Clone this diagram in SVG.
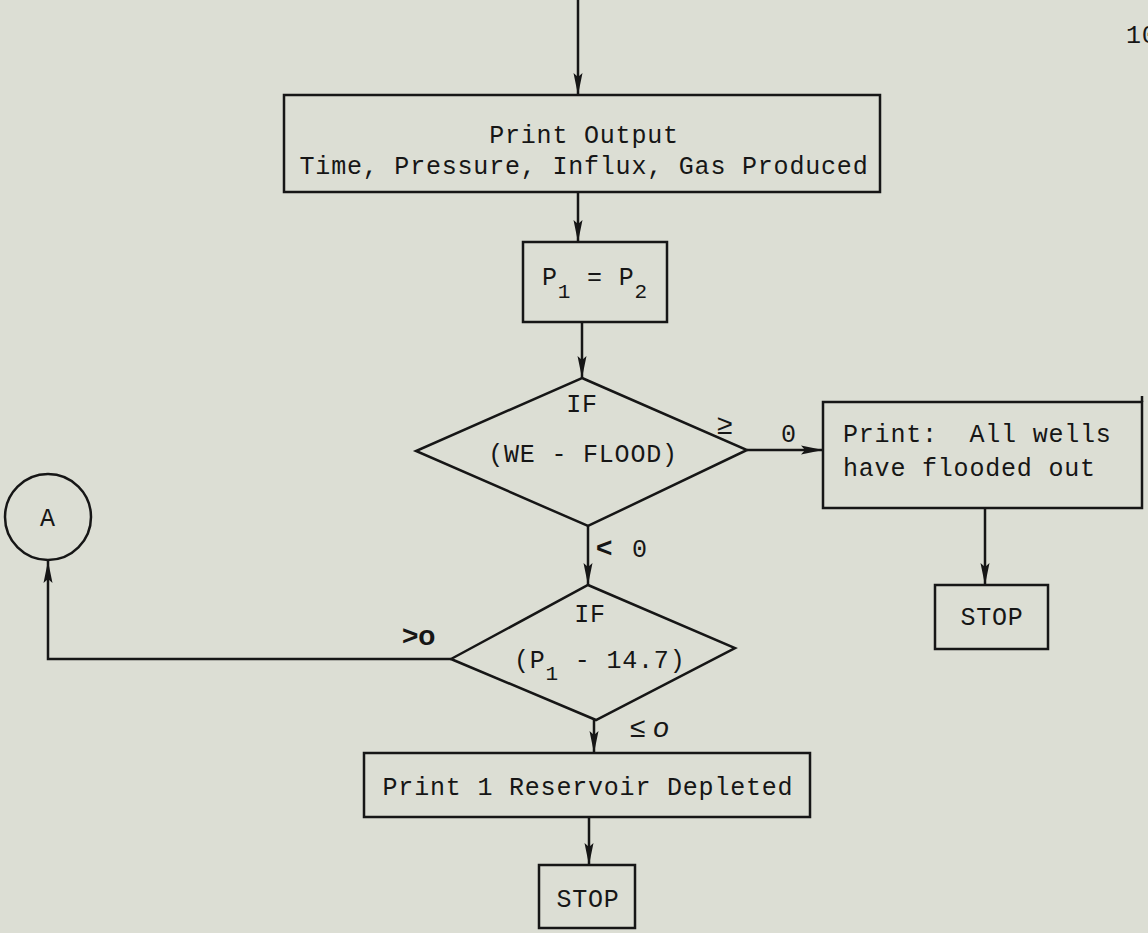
<svg xmlns="http://www.w3.org/2000/svg" width="1148" height="933" viewBox="0 0 1148 933">
<defs>
<marker id="ah" viewBox="0 0 22 10" refX="22" refY="5" markerWidth="22" markerHeight="10" orient="auto" markerUnits="userSpaceOnUse">
<path d="M0,0.5 L22,5 L0,9.5 L4,5 z" fill="#161616"/>
</marker>
<style>
.s{fill:none;stroke:#161616;stroke-width:2.5}
.t{font-family:"Liberation Mono","DejaVu Sans Mono",monospace;font-size:25px;fill:#161616;letter-spacing:0.8px;white-space:pre}
.m{text-anchor:middle}
.sub{font-size:21px}
.h{font-family:"Liberation Sans","DejaVu Sans",sans-serif;font-size:28px;fill:#161616}
</style>
</defs>
<rect width="1148" height="933" fill="#dcded4"/>
<text class="t" x="1126" y="43">10</text>
<g id="connectors">
<path class="s" d="M578,0 V95" marker-end="url(#ah)"/>
<path class="s" d="M578,192 V242" marker-end="url(#ah)"/>
<path class="s" d="M582,322 V378" marker-end="url(#ah)"/>
<path class="s" d="M747,450 H823" marker-end="url(#ah)"/>
<path class="s" d="M985,508 V585" marker-end="url(#ah)"/>
<path class="s" d="M588,526 V585" marker-end="url(#ah)"/>
<path class="s" d="M451,659 H48 V561" marker-end="url(#ah)"/>
<path class="s" d="M594,720 V753" marker-end="url(#ah)"/>
<path class="s" d="M589,817 V865" marker-end="url(#ah)"/>
<text class="h" x="717" y="434" font-size="32">≥</text>
<text class="t" x="781" y="442">0</text>
<text class="h" x="596" y="557" font-weight="bold">&lt;</text>
<text class="t" x="632" y="557">0</text>
<text class="h" x="402" y="645" font-weight="bold">&gt;o</text>
<text class="h" x="630" y="737" font-style="italic">≤ o</text>
</g>
<g id="print-output">
<rect class="s" x="284" y="95" width="596" height="97"/>
<text class="t m" x="584" y="143">Print Output</text>
<text class="t m" x="584" y="174">Time, Pressure, Influx, Gas Produced</text>
</g>
<g id="assign">
<rect class="s" x="523" y="242" width="144" height="80"/>
<text class="t" x="542" y="285">P<tspan class="sub" dy="13">1</tspan><tspan dy="-13"> = P</tspan><tspan class="sub" dy="13">2</tspan></text>
</g>
<g id="if-flood">
<path class="s" d="M582,378 L747,450 L588,526 L416,451 Z"/>
<text class="t m" x="582" y="412">IF</text>
<text class="t m" x="583" y="462">(WE - FLOOD)</text>
</g>
<g id="flooded">
<rect class="s" x="823" y="402" width="319" height="106"/>
<path class="s" d="M1142,396 V402"/>
<text class="t" x="843" y="442">Print:  All wells</text>
<text class="t" x="843" y="476">have flooded out</text>
</g>
<g id="stop1">
<rect class="s" x="935" y="585" width="113" height="64"/>
<text class="t m" x="992" y="625">STOP</text>
</g>
<g id="if-pressure">
<path class="s" d="M588,585 L735,648 L596,720 L451,659 Z"/>
<text class="t m" x="590" y="622">IF</text>
<text class="t" x="514" y="668">(P<tspan class="sub" dy="12">1</tspan><tspan dy="-12"> - 14.7)</tspan></text>
</g>
<g id="connector-a">
<ellipse class="s" cx="48" cy="517" rx="43" ry="43"/>
<text class="t m" x="48" y="526">A</text>
</g>
<g id="depleted">
<rect class="s" x="364" y="753" width="446" height="64"/>
<text class="t m" x="588" y="795">Print 1 Reservoir Depleted</text>
</g>
<g id="stop2">
<rect class="s" x="539" y="865" width="96" height="63"/>
<text class="t m" x="588" y="907">STOP</text>
</g>
</svg>
